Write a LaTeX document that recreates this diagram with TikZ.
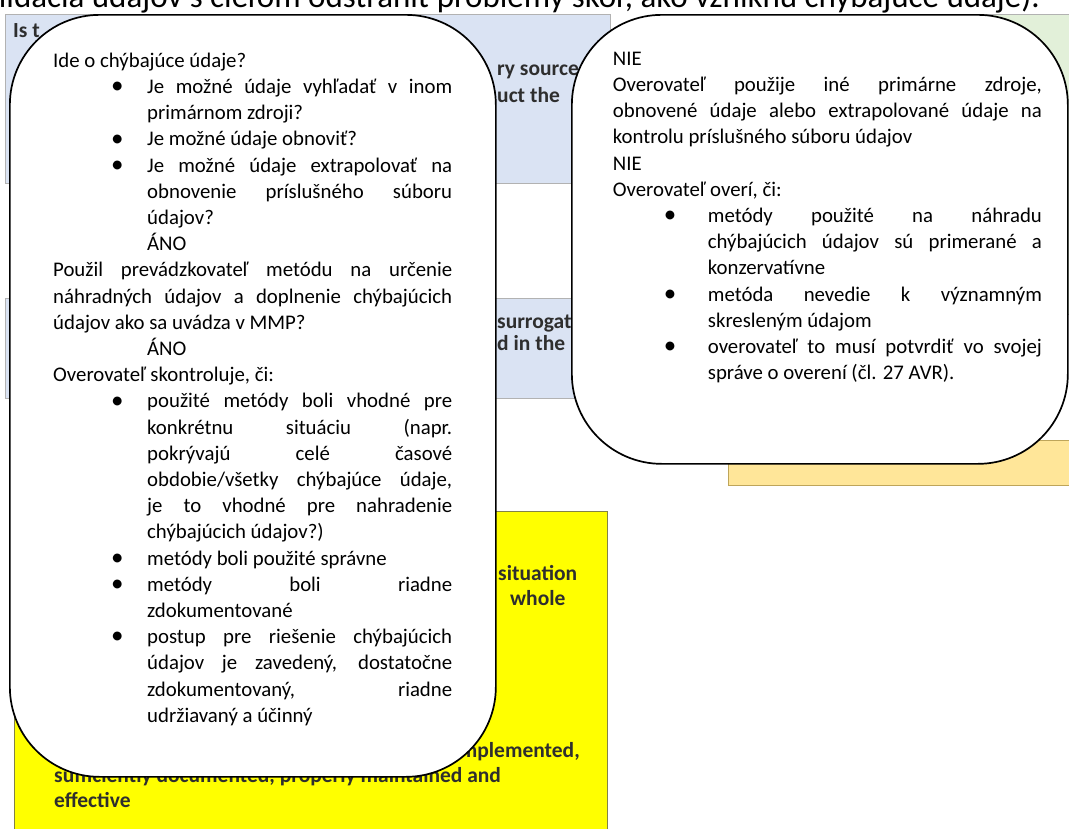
\documentclass[tikz,border=0pt]{standalone}
\usepackage{fontspec}
\setmainfont{Carlito}
\definecolor{bluefill}{HTML}{DAE3F3}
\definecolor{greenfill}{HTML}{E2F0D9}
\definecolor{orangefill}{HTML}{FFE699}
\definecolor{yellowfill}{HTML}{FFFF00}
\definecolor{bgtextcol}{HTML}{2E2E2E}
\newlength\fullw \newlength\bulw \newlength\bulind \newlength\bulpos \newlength\bulgap
\newcommand\bul{\raisebox{-0.3pt}{\scalebox{1.2}{\textbullet}}}
\newcommand\LJ[1]{\makebox[\fullw][s]{#1}}
\newcommand\LB[1]{\hspace*{\bulpos}\makebox[\bulgap][l]{\bul}\makebox[\bulw][s]{#1}}
\newcommand\LBl[1]{\hspace*{\bulpos}\makebox[\bulgap][l]{\bul}#1}
\newcommand\LI[1]{\hspace*{\bulind}\makebox[\bulw][s]{#1}}
\newcommand\LIl[1]{\hspace*{\bulind}#1}
\tikzset{
  bgbox/.style={rectangle, draw=gray!60, line width=0.8pt, anchor=north west, inner sep=0pt},
  bgtext/.style={inner sep=0pt, text=bgtextcol, font=\fontsize{21.5}{25}\selectfont\bfseries},
  cbox/.style={rectangle, draw=black, fill=white, line width=1.7pt, rounded corners=90pt, anchor=north west, inner sep=0pt},
  ctext/.style={inner sep=0pt, anchor=north west, align=left, font=\fontsize{20.8}{26.2}\selectfont}
}
\begin{document}
\begin{tikzpicture}[x=1pt,y=-1pt]
\path[use as bounding box, fill=white] (0,0) rectangle (1069,828);
\clip (0,0) rectangle (1069,828);
% top line (cut off at the top edge, as in the reference)
\node[inner sep=0pt, anchor=base east, font=\fontsize{33}{35}\selectfont] (toptext) at (1040,7) {validácia údajov s cieľom odstrániť problémy skôr, ako vzniknú chýbajúce údaje).};
% background boxes
\node[bgbox, fill=greenfill, minimum width=200pt, minimum height=300pt] (green) at (880,14) {};
\node[bgbox, fill=bluefill, minimum width=605pt, minimum height=169pt] (blue1) at (5,14) {};
\node[bgbox, fill=bluefill, minimum width=605pt, minimum height=100pt] (blue2) at (5,298) {};
\node[bgbox, fill=orangefill, draw={rgb,255:red,190;green,165;blue,90}, minimum width=360pt, minimum height=45pt] (orange) at (728,440) {};
\node[bgbox, fill=yellowfill, draw={rgb,255:red,130;green,130;blue,70}, minimum width=593pt, minimum height=340pt] (yellow) at (14,511) {};
% background text fragments
\node[bgtext, anchor=base west] (t1) at (13,37) {Is t};
\node[bgtext, anchor=base west] (t2) at (497,75) {ry source};
\node[bgtext, anchor=base west] (t3) at (497,102) {uct the};
\node[bgtext, anchor=base west] (t4) at (497,328) {surrogate};
\node[bgtext, anchor=base west] (t5) at (497,350) {d in the};
\node[bgtext, anchor=base west] (t6) at (498,580) {situation};
\node[bgtext, anchor=base west] (t7) at (510,605) {whole};
\node[bgtext, anchor=base east] (t8) at (580,757) {implemented,};
\node[bgtext, anchor=base west] (t9) at (54,782) {sufficiently documented, properly maintained and};
\node[bgtext, anchor=base west] (t10) at (54,807) {effective};
% callouts
\node[cbox, minimum width=486pt, minimum height=762pt] (c1) at (9,14) {};
\node[cbox, minimum width=496pt, minimum height=449pt] (c2) at (571,14) {};
% callout 1 text
\global\fullw=399pt \global\bulw=305pt \global\bulind=94pt \global\bulpos=58pt \global\bulgap=36pt
\node[ctext] (c1text) at (53,47) {\rule{0pt}{20pt}Ide o chýbajúce údaje?\\
\LB{Je možné údaje vyhľadať v inom}\\
\LIl{primárnom zdroji?}\\
\LBl{Je možné údaje obnoviť?}\\
\LB{Je možné údaje extrapolovať na}\\
\LI{obnovenie príslušného súboru}\\
\LIl{údajov?}\\
\LIl{ÁNO}\\
\LJ{Použil prevádzkovateľ metódu na určenie}\\
\LJ{náhradných údajov a doplnenie chýbajúcich}\\
údajov ako sa uvádza v MMP?\\
\LIl{ÁNO}\\
Overovateľ skontroluje, či:\\
\LB{použité metódy boli vhodné pre}\\
\LI{konkrétnu situáciu (napr.}\\
\LI{pokrývajú celé časové}\\
\LI{obdobie/všetky chýbajúce údaje,}\\
\LI{je to vhodné pre nahradenie}\\
\LIl{chýbajúcich údajov?)}\\
\LBl{metódy boli použité správne}\\
\LB{metódy boli riadne}\\
\LIl{zdokumentované}\\
\LB{postup pre riešenie chýbajúcich}\\
\LI{údajov je zavedený, dostatočne}\\
\LI{zdokumentovaný, riadne}\\
\LIl{udržiavaný a účinný}};
% callout 2 text
\global\fullw=429pt \global\bulw=334pt \global\bulind=95pt \global\bulpos=51pt \global\bulgap=44pt
\node[ctext] (c2text) at (612.7,45) {\rule{0pt}{20pt}NIE\\
\LJ{Overovateľ použije iné primárne zdroje,}\\
\LJ{obnovené údaje alebo extrapolované údaje na}\\
kontrolu príslušného súboru údajov\\
NIE\\
Overovateľ overí, či:\\
\LB{metódy použité na náhradu}\\
\LI{chýbajúcich údajov sú primerané a}\\
\LIl{konzervatívne}\\
\LB{metóda nevedie k významným}\\
\LIl{skresleným údajom}\\
\LB{overovateľ to musí potvrdiť vo svojej}\\
\LIl{správe o overení (čl. 27 AVR).}};
\end{tikzpicture}
\end{document}
